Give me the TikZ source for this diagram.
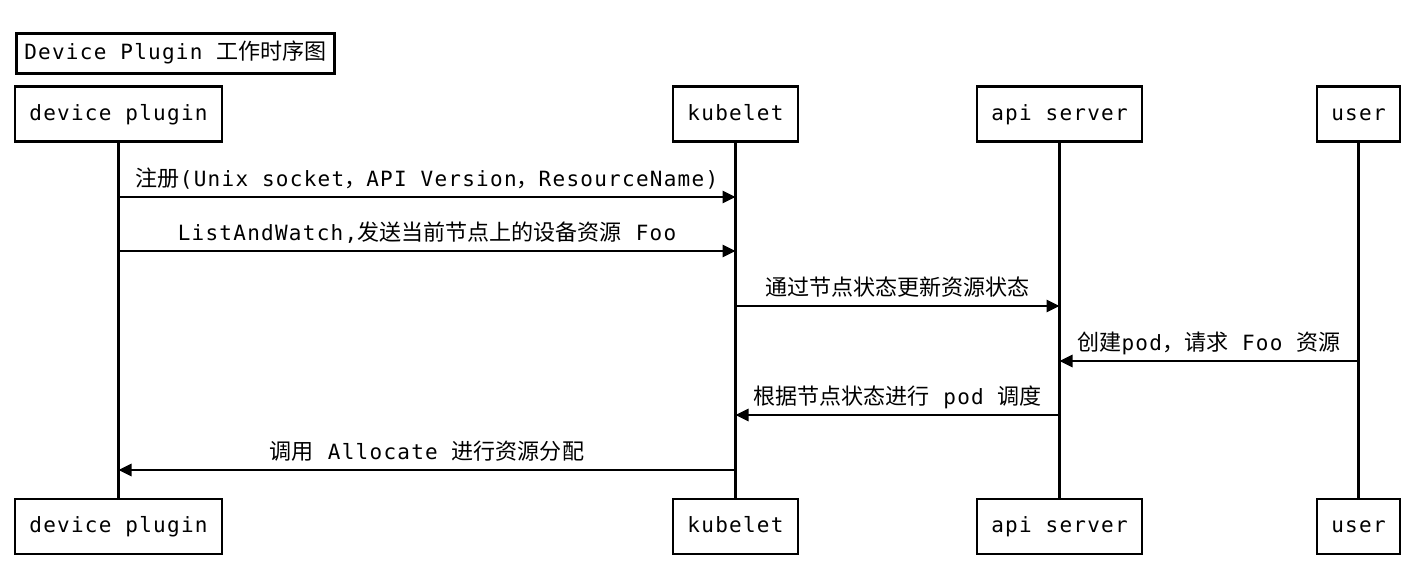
\documentclass[tikz,border=0pt]{standalone}
\usepackage{fontspec}
\usetikzlibrary{arrows.meta}
\newfontfamily\monof{DejaVu Sans Mono}[LetterSpace=6]
\newfontfamily\cjk{Noto Sans CJK SC}[Scale=1.05]
\tikzset{
  actor/.style={draw, line width=2.6pt, minimum height=55pt, inner sep=0pt, text height=15pt, text depth=3pt, font=\monof\fontsize{21}{25}\selectfont},
  life/.style={line width=2.6pt},
  msg/.style={line width=2.6pt, -{Triangle[length=13pt,width=12pt]}},
  lbl/.style={anchor=base, yshift=11pt, inner sep=0pt, font=\monof\fontsize{21}{25}\selectfont}
}
\begin{document}
\begin{tikzpicture}[x=1pt,y=-1pt]
\useasboundingbox (0,0) rectangle (1427,573);
% title
\node[actor, minimum height=40pt, inner xsep=8pt, anchor=north west] (title) at (15,32) {Device Plugin {\cjk 工作时序图}};
% top actors
\node[actor, minimum width=207pt] (dpT) at (118.5,114) {device plugin};
\node[actor, minimum width=125pt] (kuT) at (735.5,114) {kubelet};
\node[actor, minimum width=165pt] (apT) at (1059.5,114) {api server};
\node[actor, minimum width=83pt]  (usT) at (1358.5,114) {user};
% bottom actors
\node[actor, minimum width=207pt] (dpB) at (118.5,526.5) {device plugin};
\node[actor, minimum width=125pt] (kuB) at (735.5,526.5) {kubelet};
\node[actor, minimum width=165pt] (apB) at (1059.5,526.5) {api server};
\node[actor, minimum width=83pt]  (usB) at (1358.5,526.5) {user};
% lifelines
\draw[life] (dpT) -- (dpB);
\draw[life] (kuT) -- (kuB);
\draw[life] (apT) -- (apB);
\draw[life] (usT) -- (usB);
% message points
\coordinate (m1a) at (dpT |- 0,197); \coordinate (m1b) at (kuT |- 0,197);
\coordinate (m2a) at (dpT |- 0,251); \coordinate (m2b) at (kuT |- 0,251);
\coordinate (m3a) at (kuT |- 0,306); \coordinate (m3b) at (apT |- 0,306);
\coordinate (m4a) at (usT |- 0,361); \coordinate (m4b) at (apT |- 0,361);
\coordinate (m5a) at (apT |- 0,415); \coordinate (m5b) at (kuT |- 0,415);
\coordinate (m6a) at (kuT |- 0,470); \coordinate (m6b) at (dpT |- 0,470);
\draw[msg] (m1a) -- (m1b) node[lbl, midway] {{\cjk 注册}(Unix socket{\cjk ，}API Version{\cjk ，}ResourceName)};
\draw[msg] (m2a) -- (m2b) node[lbl, midway] {ListAndWatch,{\cjk 发送当前节点上的设备资源} Foo};
\draw[msg] (m3a) -- (m3b) node[lbl, midway] {\cjk 通过节点状态更新资源状态};
\draw[msg] (m4a) -- (m4b) node[lbl, midway] {{\cjk 创建}pod{\cjk ，}{\cjk 请求} Foo {\cjk 资源}};
\draw[msg] (m5a) -- (m5b) node[lbl, midway] {{\cjk 根据节点状态进行} pod {\cjk 调度}};
\draw[msg] (m6a) -- (m6b) node[lbl, midway] {{\cjk 调用} Allocate {\cjk 进行资源分配}};
\end{tikzpicture}
\end{document}
